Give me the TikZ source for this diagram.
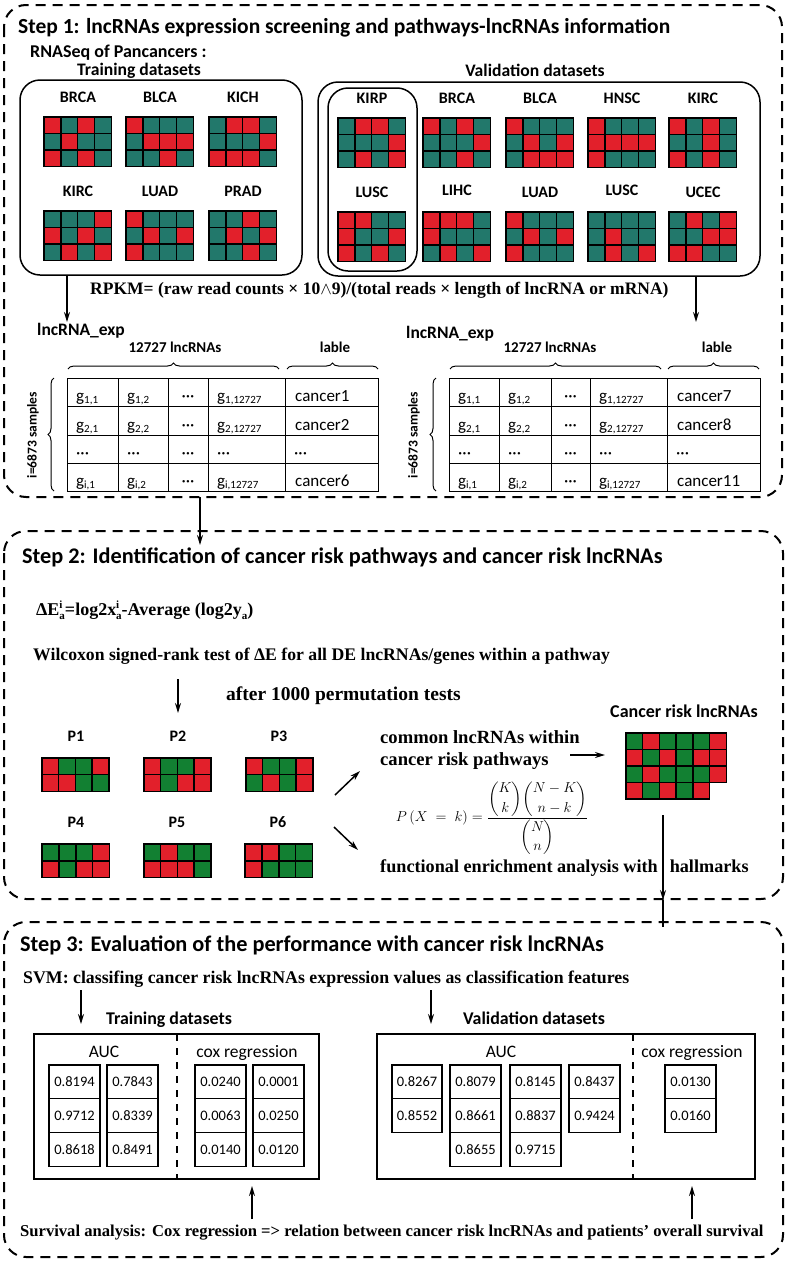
\documentclass[tikz,border=0pt]{standalone}
\usepackage{fontspec}
\usepackage{amsmath}
\setmainfont{Carlito}
\newfontfamily\srf{Liberation Serif}
\usetikzlibrary{arrows.meta,decorations.pathreplacing}
\definecolor{hmr}{HTML}{E2202B}
\definecolor{hmt}{HTML}{22786B}
\definecolor{hmg}{HTML}{128032}
\newcommand\fs[1]{\fontsize{#1}{#1}\selectfont}
\newcommand\gs[1]{g\raisebox{-2.5pt}{\fs{11}#1}}
\newcommand\supsub[2]{\rlap{\raisebox{6.5pt}{\fs{11}#1}}\raisebox{-4.5pt}{\fs{11}#2}}
% heatmap: x y cellw cellh rows
\newcommand\heat[5]{%
  \foreach \rl [count=\ri from 0] in {#5} {
    \foreach \cc [count=\ci from 0] in \rl {
      \path[hmcell, fill=hm\cc] ({#1+\ci*#3},{#2+\ri*#4}) rectangle ++(#3,#4);
    }
  }
}
% lncRNA table: six column x, three labels
\newcommand\lnctab[9]{%
  \draw[tbl] (#1,378) rectangle (#6,491);
  \foreach \cx in {#2,#3,#4,#5} \draw[tbl] (\cx,378) -- (\cx,491);
  \foreach \ry in {406,435,463} \draw[tbl] (#1,\ry) -- (#6,\ry);
  \foreach \ry/\sa/\lab in {401/1/#7,430/2/#8,486/i/#9} {
    \node[cell] (c#1-\ry-a) at (#1+9,\ry) {\gs{\sa,1}};
    \node[cell] (c#1-\ry-b) at (#2+9,\ry) {\gs{\sa,2}};
    \node[cellc] (c#1-\ry-c) at ({(#3+#4)/2},\ry) {···};
    \node[cell] (c#1-\ry-d) at (#4+9,\ry) {\gs{\sa,12727}};
    \node[cell] (c#1-\ry-e) at (#5+10,\ry) {\lab};
  }
  \foreach \cx/\nm in {#1/a,#2/b,#4/d,#5/e} \node[cell] (c#1-458-\nm) at (\cx+9,458) {···};
  \node[cellc] (c#1-458-c) at ({(#3+#4)/2},458) {···};
}
% value column: x-left, width, values
\newcommand\vcol[3]{%
  \foreach \v [count=\k from 0] in {#3}
    \node[valcell, minimum width=#2pt] (v#1-\k) at ({#1+#2/2},{1065+\k*33.8+16.9}) {\v};
}
\tikzset{
  stepbox/.style={draw, line width=2pt, dash pattern=on 10pt off 7pt, rounded corners=22pt},
  grpbox/.style={draw, line width=1.5pt, rounded corners=20pt},
  hmcell/.style={draw=black, line width=1.4pt},
  tbl/.style={draw, line width=1pt},
  arr/.style={-{Stealth[length=10pt,width=6pt]}, line width=1.5pt},
  ttl/.style={inner sep=0, anchor=base west, font=\bfseries\fs{22.3}},
  sub/.style={inner sep=0, anchor=base west, font=\bfseries\fs{18}},
  subc/.style={inner sep=0, anchor=base, font=\bfseries\fs{17.6}},
  hlab/.style={inner sep=0, anchor=base, font=\bfseries\fs{16}},
  srfb/.style={inner sep=0, anchor=base west, font=\srf\bfseries\fs{17.5}},
  cell/.style={inner sep=0, anchor=base west, font=\fs{17}},
  cellc/.style={inner sep=0, anchor=base, font=\fs{17}},
  valcell/.style={draw, line width=1.2pt, minimum height=33.8pt, inner sep=0, font=\fs{14.5}},
  hdr/.style={inner sep=0, anchor=base, font=\fs{17.5}},
  divl/.style={line width=1.2pt, dash pattern=on 7pt off 7pt},
  brc/.style={line width=1pt, decorate, decoration={brace, amplitude=6pt}},
}
\begin{document}
\begin{tikzpicture}[x=1pt,y=-1pt]
\useasboundingbox (0,0) rectangle (787,1261);
% ================= STEP 1 =================
\draw[stepbox] (4,5) rectangle (782,497);
\node[ttl, font=\bfseries\fs{21.5}] (t1) at (18,33) {Step 1: lncRNAs expression screening and pathways-lncRNAs information};
\node[sub] (rnaseq) at (30,57) {RNASeq of Pancancers :};
\node[subc] (trd) at (139,75) {Training datasets};
\node[subc] (vad) at (535,76) {Validation datasets};
\draw[grpbox] (20,80) rectangle (302,275);
\draw[grpbox] (318,82) rectangle (760,276);
\draw[grpbox] (328,88) rectangle (417,271);
% training heatmaps
\node[hlab] (lbrca) at (78,102) {BRCA};
\node[hlab] (lblca) at (160,102) {BLCA};
\node[hlab] (lkich) at (243,102) {KICH};
\node[hlab] (lkirc) at (78,196) {KIRC};
\node[hlab] (lluad) at (160,196) {LUAD};
\node[hlab] (lprad) at (243,196) {PRAD};
\heat{44}{117}{16.8}{16.4}{{r,t,r,t},{t,r,t,t},{r,t,r,t}}
\heat{126}{117}{16.8}{16.4}{{r,t,t,t},{t,r,r,r},{t,t,r,t}}
\heat{209}{117}{16.8}{16.4}{{t,r,r,t},{t,t,t,r},{r,r,r,t}}
\heat{44}{211}{16.8}{16.4}{{t,t,t,r},{r,t,r,t},{t,r,t,r}}
\heat{126}{211}{16.8}{16.4}{{r,t,t,t},{t,r,t,r},{r,t,t,t}}
\heat{209}{211}{16.8}{16.4}{{t,t,r,t},{t,r,t,r},{t,t,r,t}}
% validation heatmaps
\node[hlab] (vkirp) at (372,103) {KIRP};
\node[hlab] (vbrca) at (457,103) {BRCA};
\node[hlab] (vblca) at (540,103) {BLCA};
\node[hlab] (vhnsc) at (622,103) {HNSC};
\node[hlab] (vkirc) at (703,103) {KIRC};
\node[hlab] (vlusc) at (372,197) {LUSC};
\node[hlab] (vlihc) at (457,195) {LIHC};
\node[hlab] (vluad) at (540,197) {LUAD};
\node[hlab] (vlusc2) at (622,195) {LUSC};
\node[hlab] (vucec) at (703,197) {UCEC};
\heat{338}{118}{16.8}{16.4}{{t,r,r,t},{t,t,t,r},{t,r,t,r}}
\heat{423}{118}{16.8}{16.4}{{r,t,r,t},{t,t,t,r},{t,t,r,t}}
\heat{506}{118}{16.8}{16.4}{{r,t,t,t},{t,r,t,r},{t,r,r,r}}
\heat{588}{118}{16.8}{16.4}{{r,t,t,t},{r,r,r,r},{r,t,t,t}}
\heat{669}{118}{16.8}{16.4}{{r,t,r,t},{t,t,r,t},{r,t,r,t}}
\heat{338}{212}{16.8}{16.4}{{r,r,t,t},{r,t,t,r},{r,t,r,t}}
\heat{423}{212}{16.8}{16.4}{{r,r,r,t},{r,t,t,t},{t,r,t,r}}
\heat{506}{212}{16.8}{16.4}{{r,t,t,t},{t,r,t,r},{r,t,t,t}}
\heat{588}{212}{16.8}{16.4}{{t,t,t,t},{t,r,t,t},{t,r,t,r}}
\heat{669}{212}{16.8}{16.4}{{t,r,t,r},{t,t,r,r},{r,r,t,t}}
% RPKM
\node[srfb] (rpkm) at (90,294) {RPKM= (raw read counts × 10$\wedge$9)/(total reads × length of lncRNA or mRNA)};
\coordinate (trout) at (67,275);
\coordinate (trin) at (67,322);
\coordinate (vaout) at (696,276);
\coordinate (vain) at (696,322);
\draw[arr] (trout) -- (trin);
\draw[arr] (vaout) -- (vain);
% left table
\node[inner sep=0, anchor=base west, font=\bfseries\fs{17.5}] (lexp1) at (37,335) {lncRNA\_exp};
\node[inner sep=0, anchor=base, font=\bfseries\fs{15}] (n1) at (175,352) {12727 lncRNAs};
\node[inner sep=0, anchor=base, font=\bfseries\fs{15}] (lab1) at (335,352) {lable};
\draw[brc] (68,369) -- (279,369);
\draw[brc] (287,369) -- (378,369);
\draw[brc] (54,491) -- (54,378);
\node[inner sep=0, rotate=90, font=\bfseries\fs{13.5}] (s1) at (33,435) {i=6873 samples};
\lnctab{67}{118}{168}{208}{285}{378}{cancer1}{cancer2}{cancer6}
% right table
\node[inner sep=0, anchor=base west, font=\bfseries\fs{17.5}] (lexp2) at (406,338) {lncRNA\_exp};
\node[inner sep=0, anchor=base, font=\bfseries\fs{15}] (n2) at (550,352) {12727 lncRNAs};
\node[inner sep=0, anchor=base, font=\bfseries\fs{15}] (lab2) at (717,352) {lable};
\draw[brc] (450,369) -- (661,369);
\draw[brc] (668,369) -- (759,369);
\draw[brc] (436,491) -- (436,378);
\node[inner sep=0, rotate=90, font=\bfseries\fs{13.5}] (s2) at (414,435) {i=6873 samples};
\lnctab{449}{499}{551}{590}{667}{760}{cancer7}{cancer8}{cancer11}
% ================= STEP 2 =================
\draw[stepbox] (4,531) rectangle (783,899);
\coordinate (s1out) at (200,497);
\coordinate (s2in) at (200,545);
\draw[arr] (s1out) -- (s2in);
\node[ttl] (t2) at (22,563) {Step 2: Identification of cancer risk pathways and cancer risk lncRNAs};
\node[srfb, font=\srf\bfseries\fs{18}] (de) at (36,615) {ΔE\supsub{i}{a}=log2x\supsub{i}{a}-Average (log2y\raisebox{-4.5pt}{\fs{11}a})};
\node[srfb, font=\srf\bfseries\fs{17.7}] (wil) at (33,660) {Wilcoxon signed-rank test of ΔE for all DE lncRNAs/genes within a pathway};
\coordinate (wa) at (178,679);
\coordinate (wb) at (178,713);
\draw[arr] (wa) -- (wb);
\node[srfb, font=\srf\bfseries\fs{19.5}] (perm) at (226,700) {after 1000 permutation tests};
\node[hlab] (p1) at (76,741) {P1};
\node[hlab] (p2) at (178,741) {P2};
\node[hlab] (p3) at (279,741) {P3};
\node[hlab] (p4) at (76,827) {P4};
\node[hlab] (p5) at (177,827) {P5};
\node[hlab] (p6) at (278,827) {P6};
\heat{42}{758}{16.7}{16.6}{{r,g,g,r},{r,r,g,g}}
\heat{144}{758}{16.7}{16.6}{{r,g,g,r},{r,g,r,r}}
\heat{246}{758}{16.7}{16.6}{{r,g,g,r},{g,r,g,r}}
\heat{42}{844}{16.9}{16.8}{{g,g,g,r},{r,g,r,r}}
\heat{144}{844}{16.7}{16.8}{{g,r,g,g},{r,r,r,g}}
\heat{245}{844}{16.9}{16.8}{{r,r,g,g},{r,g,g,g}}
\coordinate (ua) at (335,795);
\coordinate (ub) at (360,771);
\coordinate (da) at (334,827);
\coordinate (db) at (358,850);
\draw[arr] (ua) -- (ub);
\draw[arr] (da) -- (db);
\node[srfb, font=\srf\bfseries\fs{18.6}] (com1) at (380,743) {common lncRNAs within};
\node[srfb, font=\srf\bfseries\fs{18.6}] (com2) at (380,765) {cancer risk pathways};
\coordinate (ca) at (570,755);
\coordinate (cb) at (605,755);
\draw[arr] (ca) -- (cb);
\node[inner sep=0, anchor=base, font=\bfseries\fs{18}] (crl) at (684,717) {Cancer risk lncRNAs};
\heat{626}{733}{16.7}{16.5}{{g,r,g,g,g,r},{r,g,r,g,r,r},{g,r,g,g,g,r},{r,g,r,g,r}}
\node[inner sep=0, font=\fs{14}] (hyp) at (492,818) {$P\left(X \;=\; k\right) = \dfrac{\dbinom{K}{k}\dbinom{N-K}{n-k}}{\dbinom{N}{n}}$};
\node[srfb, font=\srf\bfseries\fs{18.2}] (fea) at (380,872) {functional enrichment analysis with\hspace{12pt}hallmarks};
\coordinate (ha) at (663,815);
\coordinate (hb) at (663,900);
\coordinate (hc) at (663,927);
\draw[arr] (ha) -- (hb);
\draw[line width=1.5pt] (hb) -- (hc);
% ================= STEP 3 =================
\draw[stepbox] (4,922) rectangle (783,1257);
\node[ttl] (t3) at (20,951) {Step 3: Evaluation of the performance with cancer risk lncRNAs};
\node[srfb, font=\srf\bfseries\fs{17.8}] (svm) at (23,983) {SVM: classifing cancer risk lncRNAs expression values as classification features};
\coordinate (sa1) at (81,990);
\coordinate (sb1) at (81,1024);
\coordinate (sa2) at (431,990);
\coordinate (sb2) at (431,1024);
\draw[arr] (sa1) -- (sb1);
\draw[arr] (sa2) -- (sb2);
\node[subc, font=\bfseries\fs{17.9}] (trd3) at (169,1024) {Training datasets};
\node[subc, font=\bfseries\fs{17.9}] (vad3) at (534,1024) {Validation datasets};
\draw[line width=1.6pt] (34,1034) rectangle (319,1179);
\draw[divl] (177,1034) -- (177,1179);
\draw[line width=1.6pt] (377,1034) rectangle (755,1179);
\draw[divl] (633,1034) -- (633,1179);
\node[hdr] (auc1) at (104,1057) {AUC};
\node[hdr] (cox1) at (247,1057) {cox regression};
\node[hdr] (auc2) at (501,1057) {AUC};
\node[hdr] (cox2) at (692,1057) {cox regression};
\vcol{49}{51}{0.8194,0.9712,0.8618}
\vcol{107}{51}{0.7843,0.8339,0.8491}
\vcol{195}{51}{0.0240,0.0063,0.0140}
\vcol{253}{51}{0.0001,0.0250,0.0120}
\vcol{392}{50}{0.8267,0.8552}
\vcol{450}{51}{0.8079,0.8661,0.8655}
\vcol{510}{51}{0.8145,0.8837,0.9715}
\vcol{569}{51}{0.8437,0.9424}
\vcol{665}{51}{0.0130,0.0160}
\coordinate (xa1) at (252,1219);
\coordinate (xb1) at (252,1186);
\coordinate (xa2) at (692,1219);
\coordinate (xb2) at (692,1186);
\draw[arr] (xa1) -- (xb1);
\draw[arr] (xa2) -- (xb2);
\node[srfb, font=\srf\bfseries\fs{16.6}] (surv) at (20,1236) {Survival analysis:\hspace{6pt}Cox regression => relation between cancer risk lncRNAs and patients’ overall survival};
\end{tikzpicture}
\end{document}
